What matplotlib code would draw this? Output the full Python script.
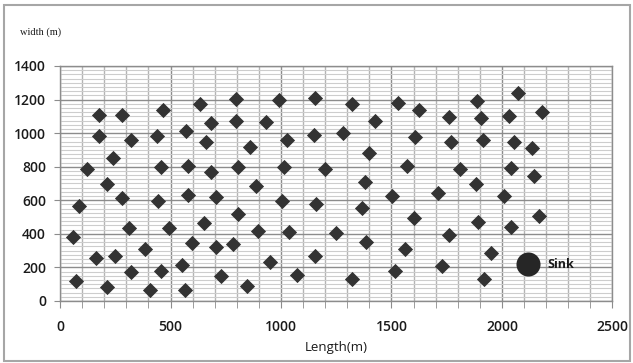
import matplotlib.pyplot as plt
from matplotlib.patches import Rectangle
from matplotlib.ticker import MultipleLocator

# node positions (m)
node_x = [175, 280, 465, 175, 320, 440, 570, 242, 120, 455,
          580, 212, 86, 280, 444, 579, 61, 311, 492, 598,
          386, 162, 247, 323, 455, 550, 71, 212, 409, 565,
          633, 795, 992, 1155, 685, 795, 932, 662, 860, 1026,
          1149, 682, 806, 1015, 1197, 705, 886, 1003, 1159, 652,
          806, 898, 1038, 705, 783, 1155, 950, 730, 1073, 848,
          1321, 1530, 1626, 1424, 1761, 1280, 1606, 1770, 1397, 1571,
          1808, 1382, 1503, 1712, 1368, 1601, 1250, 1762, 1386, 1561,
          1515, 1730, 1323, 2071, 1889, 1906, 2030, 2179, 1914, 2053,
          2136, 2041, 2144, 1882, 2010, 1891, 2167, 2041, 1950, 1919]
node_y = [1110, 1110, 1135, 985, 958, 985, 1010, 853, 788, 800,
          803, 696, 567, 611, 595, 633, 383, 433, 433, 347,
          309, 254, 268, 175, 181, 216, 117, 81, 65, 65,
          1173, 1206, 1196, 1212, 1058, 1073, 1067, 948, 918, 962,
          988, 770, 800, 796, 784, 621, 684, 595, 577, 466,
          518, 418, 412, 323, 337, 268, 234, 151, 155, 91,
          1171, 1180, 1137, 1073, 1097, 1002, 978, 948, 883, 803,
          784, 710, 625, 641, 552, 492, 403, 393, 353, 310,
          181, 208, 129, 1242, 1190, 1093, 1103, 1127, 962, 948,
          909, 793, 744, 696, 625, 472, 506, 442, 288, 131]

sink_x = [2118]
sink_y = [220]
sink_label = "Sink"

fig = plt.figure(figsize=(6.33, 3.63), dpi=100)
fig.patches.append(Rectangle((0.006, 0.006), 0.99, 0.98, transform=fig.transFigure,
                             fill=False, edgecolor="#a6a6a6", linewidth=1.5))

ax = fig.add_axes([0.0948, 0.1708, 0.8728, 0.6474])
ax.set_xlim(0, 2500)
ax.set_ylim(0, 1400)

ax.xaxis.set_major_locator(MultipleLocator(500))
ax.xaxis.set_minor_locator(MultipleLocator(100))
ax.yaxis.set_major_locator(MultipleLocator(200))
ax.yaxis.set_minor_locator(MultipleLocator(25))

# grid: light minor lines, darker majors
ax.grid(which="minor", axis="y", color="#cdcdcd", linewidth=0.8)
ax.grid(which="minor", axis="x", color="#b4b4b4", linewidth=1.0)
ax.grid(which="major", color="#8c8c8c", linewidth=1.0)
ax.set_axisbelow(True)

for s in ax.spines.values():
    s.set_color("#8c8c8c")
    s.set_linewidth(1.0)

ax.tick_params(which="both", axis="y", left=False)
ax.tick_params(which="major", axis="y", left=True, length=4, color="#8c8c8c")
ax.tick_params(which="both", axis="x", length=5, color="#8c8c8c")
ax.tick_params(axis="y", labelsize=10, pad=6)
ax.tick_params(axis="x", labelsize=10, pad=9)
for lab in ax.get_xticklabels() + ax.get_yticklabels():
    lab.set_fontfamily("Open Sans")
    lab.set_fontweight("semibold")
    lab.set_color("#1a1a1a")

ax.scatter(node_x, node_y, marker="D", s=60, color="#333333", zorder=3, linewidths=0)
ax.scatter(sink_x, sink_y, marker="o", s=300, color="#262626", zorder=3, linewidths=0)
ax.annotate(sink_label, (sink_x[0], sink_y[0]), xytext=(14, 0), textcoords="offset points",
            va="center", ha="left", fontsize=9, fontweight="bold",
            family="Open Sans", color="#1a1a1a")

ax.set_xlabel("Length(m)", fontsize=9.5, family="Open Sans", color="#1a1a1a", labelpad=5)
fig.text(0.032, 0.905, "width (m)", fontsize=7.5, family="Liberation Serif", color="#1a1a1a")

fig.savefig("out.png", dpi=100)
